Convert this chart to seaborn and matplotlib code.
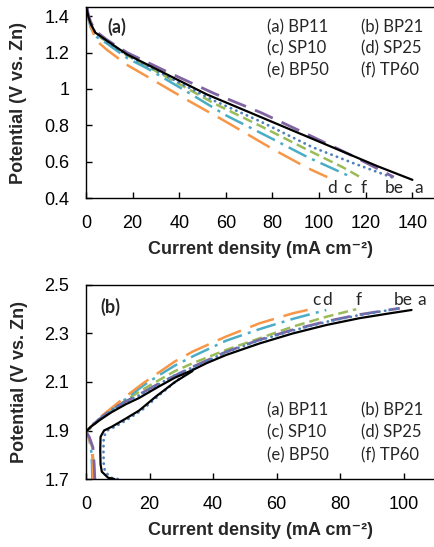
import numpy as np
import seaborn as sns
from matplotlib import pyplot as plt

# ---- (a) discharge curves: current density (mA cm-2) vs potential (V) ----
dis_a_x = [0.3, 1, 2, 4, 9, 17.6, 34.7, 51.8, 70, 90, 110, 125, 140]
dis_a_y = [1.44, 1.40, 1.36, 1.31, 1.265, 1.19, 1.08, 0.97, 0.872, 0.764, 0.656, 0.575, 0.50]
dis_b_x = [0.5, 1, 2, 4, 9, 17.6, 34.7, 55, 75, 95, 115, 132]
dis_b_y = [1.45, 1.41, 1.37, 1.32, 1.27, 1.20, 1.095, 0.975, 0.87, 0.75, 0.628, 0.515]
dis_c_x = [0.5, 1, 2, 4, 9, 17.6, 26, 43.3, 60, 80, 95, 113]
dis_c_y = [1.42, 1.39, 1.34, 1.29, 1.25, 1.17, 1.115, 0.985, 0.855, 0.725, 0.625, 0.52]
dis_d_x = [0.5, 1, 2, 3, 5, 9, 17.9, 26, 43.3, 60, 80, 95, 103.5]
dis_d_y = [1.43, 1.40, 1.35, 1.31, 1.26, 1.215, 1.13, 1.07, 0.94, 0.82, 0.67, 0.565, 0.515]
dis_e_x = [0.5, 1, 2, 4, 9, 17.6, 34.7, 55, 75, 97, 115, 132]
dis_e_y = [1.44, 1.40, 1.36, 1.31, 1.26, 1.185, 1.07, 0.935, 0.82, 0.68, 0.59, 0.51]
dis_f_x = [0.5, 1, 2, 4, 9, 17.6, 34.7, 55, 75, 95, 110, 119]
dis_f_y = [1.43, 1.40, 1.35, 1.30, 1.26, 1.185, 1.065, 0.92, 0.795, 0.665, 0.57, 0.505]

# ---- (b) charge curves ----
chg_a_x = [0, 1.5, 4, 8, 12.5, 16.7, 23, 28, 33.5, 38, 44, 54.6, 65, 75.6, 86, 95, 102.4]
chg_a_y = [1.895, 1.915, 1.94, 1.975, 2.008, 2.034, 2.082, 2.118, 2.149, 2.178, 2.211, 2.259, 2.30, 2.335,
           2.363, 2.382, 2.397]
chg_a_loop_x = [9, 7, 5, 4.6, 4.5, 4.6, 5.7, 8.2, 12, 16.7, 22, 28, 33.5]
chg_a_loop_y = [1.70, 1.705, 1.73, 1.76, 1.82, 1.874, 1.90, 1.916, 1.945, 1.982, 2.04, 2.10, 2.145]
chg_b_x = [2.8, 2.6, 2.2, 1, 0, 1.5, 4, 8, 12.5, 16.7, 23, 33.5, 44, 54.6, 65, 75.6, 86, 98.7]
chg_b_y = [1.70, 1.76, 1.83, 1.875, 1.895, 1.915, 1.945, 1.985, 2.02, 2.048, 2.094, 2.162, 2.224, 2.274,
           2.315, 2.35, 2.378, 2.404]
chg_c_x = [2.0, 1.9, 1.6, 0.8, 0, 1.5, 4, 7.3, 12.5, 18, 23, 28, 33.5, 44, 54.6, 65, 75.6]
chg_c_y = [1.70, 1.76, 1.83, 1.875, 1.895, 1.912, 1.945, 1.978, 2.03, 2.085, 2.128, 2.168, 2.205, 2.27,
           2.318, 2.36, 2.397]
chg_d_x = [2.3, 2.2, 1.8, 0.8, 0, 1.5, 4, 7.3, 12.5, 18, 23, 28, 33.5, 44, 54.6, 65, 72]
chg_d_y = [1.70, 1.76, 1.83, 1.875, 1.895, 1.915, 1.95, 1.985, 2.04, 2.095, 2.14, 2.185, 2.225, 2.287,
           2.342, 2.383, 2.404]
chg_e_x = [0, 3, 8, 12.5, 16.7, 23, 28, 33.5, 44, 54.6, 65, 75.6, 86, 98.7]
chg_e_y = [1.895, 1.935, 1.985, 2.018, 2.045, 2.092, 2.128, 2.16, 2.222, 2.272, 2.312, 2.348, 2.376, 2.404]
chg_e_loop_x = [10, 8, 6, 5.6, 5.5, 5.6, 6.7, 9.2, 13, 17.7, 23, 29, 34.5]
chg_e_loop_y = [1.70, 1.705, 1.73, 1.76, 1.82, 1.874, 1.90, 1.916, 1.945, 1.985, 2.045, 2.11, 2.16]
chg_f_x = [2.5, 2.4, 2.0, 1, 0, 1.5, 4, 7.3, 12.5, 18, 23, 28, 33.5, 44, 54.6, 65, 75.6, 85]
chg_f_y = [1.70, 1.76, 1.83, 1.875, 1.895, 1.912, 1.94, 1.975, 2.025, 2.07, 2.108, 2.145, 2.177, 2.232,
           2.28, 2.328, 2.369, 2.40]

legend_names = ['(a) BP11', '(b) BP21', '(c) SP10', '(d) SP25', '(e) BP50', '(f) TP60']
end_labels_top = ['d', 'c', 'f', 'be', 'a']
end_labels_top_x = [105.5, 112, 119, 132, 142.5]
end_labels_bot = ['c', 'd', 'f', 'be', 'a']
end_labels_bot_x = [72.5, 76, 85.8, 99.7, 105.5]

# Excel-like styles per series
styles = {
    'a': dict(color='black', linestyle='-', linewidth=1.6),
    'b': dict(color='#8064A2', linestyle=(0, (7, 3.5)), linewidth=2.0),
    'c': dict(color='#4BACC6', linestyle=(0, (8, 2.5, 1.2, 2.5)), linewidth=1.8),
    'd': dict(color='#F79646', linestyle=(0, (10, 4)), linewidth=1.8),
    'e': dict(color='#4F81BD', linestyle=(0, (0.1, 2.0)), linewidth=2.0, dash_capstyle='round'),
    'f': dict(color='#9BBB59', linestyle=(0, (4, 2)), linewidth=1.8),
}

sns.set_style('ticks')
plt.rcParams['font.family'] = ['Liberation Sans', 'DejaVu Sans']
plt.rcParams['axes.linewidth'] = 1.0

fig = plt.figure(figsize=(4.34, 5.47), dpi=100)
ax1 = fig.add_axes([0.198, 0.638, 0.806, 0.349])
ax2 = fig.add_axes([0.198, 0.1243, 0.806, 0.3547])

top_series = [('f', dis_f_x, dis_f_y), ('c', dis_c_x, dis_c_y), ('d', dis_d_x, dis_d_y),
              ('e', dis_e_x, dis_e_y), ('b', dis_b_x, dis_b_y), ('a', dis_a_x, dis_a_y)]
for key, xs, ys in top_series:
    sns.lineplot(x=xs, y=ys, ax=ax1, sort=False, estimator=None, **styles[key])

bot_series = [('f', chg_f_x, chg_f_y), ('c', chg_c_x, chg_c_y), ('d', chg_d_x, chg_d_y),
              ('b', chg_b_x, chg_b_y), ('e', chg_e_x, chg_e_y), ('e', chg_e_loop_x, chg_e_loop_y),
              ('a', chg_a_x, chg_a_y), ('a', chg_a_loop_x, chg_a_loop_y)]
for key, xs, ys in bot_series:
    sns.lineplot(x=xs, y=ys, ax=ax2, sort=False, estimator=None, **styles[key])

lab_font = ['Lato', 'DejaVu Sans']

# panel (a)
ax1.set_xlim(0, 150)
ax1.set_ylim(0.4, 1.45)
ax1.set_xticks(np.arange(0, 141, 20))
ax1.set_yticks([0.4, 0.6, 0.8, 1.0, 1.2, 1.4])
ax1.set_yticklabels(['0.4', '0.6', '0.8', '1', '1.2', '1.4'])
ax1.text(0.06, 0.895, '(a)', transform=ax1.transAxes, fontsize=13, fontweight='bold',
         va='center', family=lab_font)
for lx, lab in zip(end_labels_top_x, end_labels_top):
    ax1.text(lx, 0.457, lab, ha='center', va='center', fontsize=12.5, family=lab_font)

# panel (b)
ax2.set_xlim(0, 110)
ax2.set_ylim(1.7, 2.5)
ax2.set_xticks(np.arange(0, 101, 20))
ax2.set_yticks([1.7, 1.9, 2.1, 2.3, 2.5])
ax2.text(0.04, 0.887, '(b)', transform=ax2.transAxes, fontsize=13, fontweight='bold',
         va='center', family=lab_font)
for lx, lab in zip(end_labels_bot_x, end_labels_bot):
    ax2.text(lx, 2.437, lab, ha='center', va='center', fontsize=12.5, family=lab_font)

# text legends
for ax, rows in [(ax1, [0.895, 0.782, 0.668]), (ax2, [0.356, 0.238, 0.124])]:
    for i, name in enumerate(legend_names):
        col = [0.519, 0.785][i % 2]
        ax.text(col, rows[i // 2], name, transform=ax.transAxes, fontsize=12,
                va='center', ha='left', family=lab_font)

for ax in (ax1, ax2):
    ax.tick_params(direction='in', length=4, width=1, labelsize=13, pad=12,
                   top=False, right=False, colors='black')
    ax.set_xlabel('Current density (mA cm⁻²)', fontsize=13, fontweight='bold', labelpad=7)
    ax.set_ylabel('Potential (V vs. Zn)', fontsize=13, fontweight='bold', labelpad=12)
    for s in ax.spines.values():
        s.set_color('black')
        s.set_visible(True)

fig.savefig('out.png', dpi=100)
